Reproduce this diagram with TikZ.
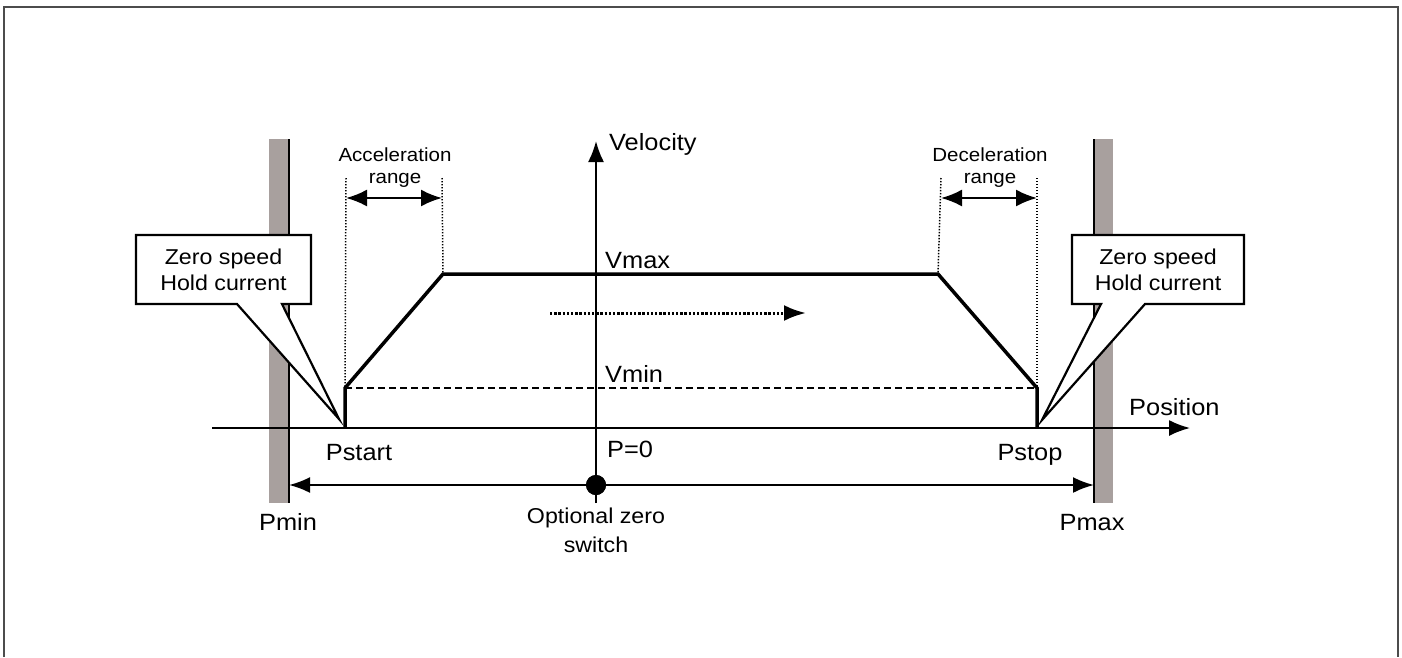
\documentclass[tikz,border=0pt]{standalone}
\usepackage{fontspec}
\setmainfont{Liberation Sans}[FakeStretch=1.08]
\usetikzlibrary{arrows.meta}
\definecolor{wallgray}{RGB}{168,160,158}
\begin{document}
\begin{tikzpicture}[x=1pt,y=-1pt,
  lbl/.style={inner sep=0pt, anchor=base west, font=\fontsize{23.5}{27}\selectfont},
  lblc/.style={inner sep=0pt, anchor=base, font=\fontsize{23.5}{27}\selectfont},
  small/.style={inner sep=0pt, anchor=base, font=\fontsize{19}{22}\selectfont},
  ctext/.style={inner sep=0pt, anchor=base, font=\fontsize{21.5}{26}\selectfont},
  otext/.style={inner sep=0pt, anchor=base, font=\fontsize{21.5}{26}\selectfont},
  bigtip/.style={-{Latex[length=21pt,width=16pt]}},
  axis/.style={line width=2pt},
  profile/.style={line width=3.5pt, line join=miter},
  rangeline/.style={line width=1.5pt, dash pattern=on 1.4pt off 1.6pt},
  callout/.style={draw, fill=white, line width=2.2pt, line join=miter},
  wallline/.style={line width=1.3pt},
  dot/.style={circle, fill=black, inner sep=0pt, minimum size=20pt}
]
\useasboundingbox (0,0) rectangle (1402,657);

% frame
\draw[line width=1.3pt, black!70] (4,657) -- (4,7) -- (1398,7) -- (1398,657);

% walls
\fill[wallgray] (269,139) rectangle (289,503);
\fill[wallgray] (1094,139) rectangle (1113,503);
\draw[wallline] (289,139) -- (289,503);
\draw[wallline] (1094,139) -- (1094,503);

% coordinates
\coordinate (xs) at (212,428);
\coordinate (xe) at (1190,428);
\coordinate (ys) at (596,503);
\coordinate (ye) at (596,141);
\coordinate (ps) at (345,428);
\coordinate (pv) at (345,388);
\coordinate (a1) at (443,274);
\coordinate (d1) at (938,274);
\coordinate (dv) at (1037,388);
\coordinate (pe) at (1037,428);
\coordinate (al) at (346,178);
\coordinate (ar) at (442,178);
\coordinate (dl) at (941,178);
\coordinate (dr) at (1037,178);
\coordinate (ala) at (346,198);
\coordinate (ara) at (442,198);
\coordinate (dla) at (941,198);
\coordinate (dra) at (1037,198);
\coordinate (ms) at (550,313);
\coordinate (me) at (806,313);
\coordinate (pminE) at (289,485);
\coordinate (pmaxE) at (1094,485);

% axes
\draw[axis, line width=1.8pt, bigtip] (xs) -- (xe);
\draw[axis, bigtip] (ys) -- (ye);

% Vmin dashed line
\draw[line width=1.8pt, dash pattern=on 7pt off 4pt] (pv) -- (dv);

% velocity profile
\draw[profile] (ps) -- (pv) -- (a1) -- (d1) -- (dv) -- (pe);

% range lines
\draw[rangeline] (al) -- (pv);
\draw[rangeline] (ar) -- (a1);
\draw[rangeline] (dl) -- (d1);
\draw[rangeline] (dr) -- (dv);
\draw[line width=2.2pt, {Latex[length=21pt,width=17pt]}-{Latex[length=21pt,width=17pt]}] (ala) -- (ara);
\draw[line width=2.2pt, {Latex[length=21pt,width=17pt]}-{Latex[length=21pt,width=17pt]}] (dla) -- (dra);

% direction arrow
\draw[line width=3pt, dash pattern=on 2.4pt off 1.8pt, -{Latex[length=22pt,width=16pt]}] (ms) -- (me);

% bottom range arrow and zero switch
\node[dot] (zs) at (596,485) {};
\draw[line width=2.2pt, bigtip] (zs) -- (pminE);
\draw[line width=2.2pt, bigtip] (zs) -- (pmaxE);
\node[dot] at (zs) {};

% callouts
\draw[callout] (136,235) -- (311,235) -- (311,304) -- (282,304) -- (339,419) -- (237,304) -- (136,304) -- cycle;
\node[ctext] (cl1) at (223.5,264) {Zero speed};
\node[ctext] (cl2) at (223.5,290) {Hold current};
\draw[callout] (1072,235) -- (1244,235) -- (1244,304) -- (1145,304) -- (1042,420) -- (1101,304) -- (1072,304) -- cycle;
\node[ctext] (cr1) at (1158,264) {Zero speed};
\node[ctext] (cr2) at (1158,290) {Hold current};

% labels
\node[lbl] (vel) at (609,150) {Velocity};
\node[lbl] (vmax) at (605,268) {Vmax};
\node[lbl] (vmin) at (605,382) {Vmin};
\node[lbl] (pos) at (1129,415) {Position};
\node[lblc] (pstart) at (359,460) {Pstart};
\node[lbl] (p0) at (607,457) {P=0};
\node[lblc] (pstop) at (1030,460) {Pstop};
\node[lblc] (pmin) at (288,530) {Pmin};
\node[lblc] (pmax) at (1092,530) {Pmax};
\node[otext] (oz1) at (596,523) {Optional zero};
\node[otext] (oz2) at (596,552) {switch};
\node[small] (acc1) at (395,161) {Acceleration};
\node[small] (acc2) at (395,183) {range};
\node[small] (dec1) at (990,161) {Deceleration};
\node[small] (dec2) at (990,183) {range};
\end{tikzpicture}
\end{document}
